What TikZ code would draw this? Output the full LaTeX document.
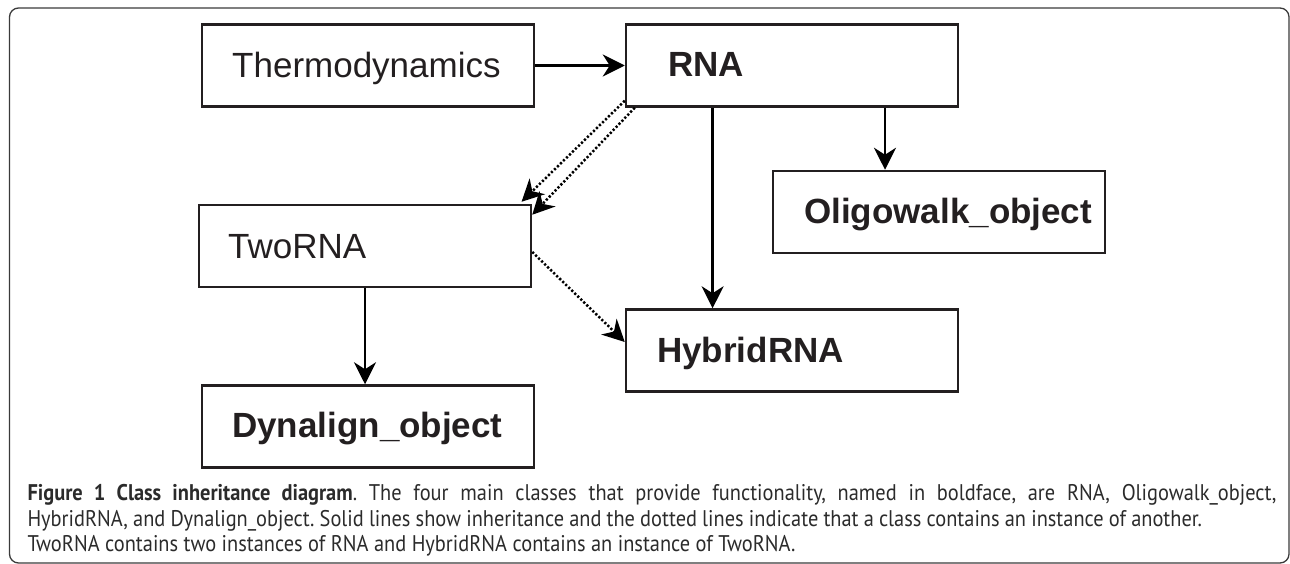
\documentclass[tikz,border=0pt]{standalone}
\usepackage{fontspec}
\usetikzlibrary{arrows.meta}
\setmainfont{Liberation Sans}
\newfontfamily\boxfont{Liberation Sans}
\newfontfamily\capfont[FakeStretch=0.9]{PT Sans}
\definecolor{ink}{HTML}{231F20}
\definecolor{capink}{HTML}{2B2B2B}
\definecolor{framec}{HTML}{3A3A3A}
\newsavebox\capmeasure
\newdimen\capw
\begin{document}
\frenchspacing
\sbox\capmeasure{\capfont\fontsize{10pt}{12pt}\selectfont TwoRNA contains two instances of RNA and HybridRNA contains an instance of TwoRNA.}%
\capw=\wd\capmeasure
\pgfmathsetmacro\capsize{10*768/\capw}%
\pgfmathsetmacro\capskip{1.2*\capsize}%
\begin{tikzpicture}[x=1pt,y=-1pt,
  classbox/.style={draw=ink,line width=2.5pt,minimum width=332pt,minimum height=82pt,inner sep=0pt},
  classtext/.style={anchor=base west,inner sep=0pt,text=ink,font=\boxfont\fontsize{35pt}{40pt}\selectfont},
  boldtext/.style={classtext,font=\boxfont\bfseries\fontsize{35pt}{40pt}\selectfont},
  inh/.style={draw=black,line width=2.3pt,-{Stealth[length=22pt,width=22pt,inset=7pt]}},
  contains/.style={draw=black,line width=2.5pt,dash pattern=on 2.2pt off 2pt,-{Stealth[length=22pt,width=22pt,inset=7pt]}},
  capline/.style={anchor=base west,inner sep=0pt,text=capink,font=\capfont\fontsize{\capsize pt}{\capskip pt}\selectfont}]
\useasboundingbox (0,0) rectangle (1290,564);
\begin{scope}
\clip (0,0) rectangle (1290,564);
\draw[framec,line width=1.3pt,rounded corners=9pt] (9.5,8) rectangle (1289,563);
\end{scope}

% boxes
\node[classbox] (thermo) at (368,65.5) {};
\node[classbox] (rna) at (792,65.5) {};
\node[classbox] (twor) at (365,246) {};
\node[classbox] (oligo) at (939,212) {};
\node[classbox] (hybrid) at (792,350.5) {};
\node[classbox] (dyn) at (368,426.5) {};

% labels
\node[classtext] (thermoT) at (232,77.5) {Thermodynamics};
\node[boldtext] (rnaT) at (668,77) {RNA};
\node[classtext] (tworT) at (228,258) {TwoRNA};
\node[boldtext] (oligoT) at (804,223) {Oligowalk\_object};
\node[boldtext] (hybridT) at (657,362) {HybridRNA};
\node[boldtext] (dynT) at (232,437) {Dynalign\_object};

% inheritance
\draw[inh] (thermo.east) -- (rna.west);
\draw[inh] ([xshift=-79.4pt]rna.south) -- ([xshift=-79.4pt]rna.south |- hybrid.north);
\draw[inh] ([xshift=93pt]rna.south) -- ([xshift=93pt]rna.south |- oligo.north);
\draw[inh] (twor.south) -- (twor.south |- dyn.north);

% containment
\draw[contains] ([yshift=7pt]rna.south west) -- ([xshift=-10.7pt,yshift=2pt]twor.north east);
\draw[contains] ([xshift=10pt]rna.south west) -- ([yshift=-11pt]twor.north east);
\draw[contains] ([yshift=-6pt]twor.east) -- ([yshift=8.5pt]hybrid.west);

% caption
\node[capline] (cap1) at (27.3,500.7) {\makebox[1249pt][s]{\textbf{Figure 1 Class inheritance diagram}. The four main classes that provide functionality, named in boldface, are RNA, Oligowalk\_object,}};
\node[capline] (cap2) at (27.3,526.7) {\makebox[1174.5pt][s]{HybridRNA, and Dynalign\_object. Solid lines show inheritance and the dotted lines indicate that a class contains an instance of another.}};
\node[capline] (cap3) at (27.3,551.7) {TwoRNA contains two instances of RNA and HybridRNA contains an instance of TwoRNA.};
\end{tikzpicture}
\end{document}
